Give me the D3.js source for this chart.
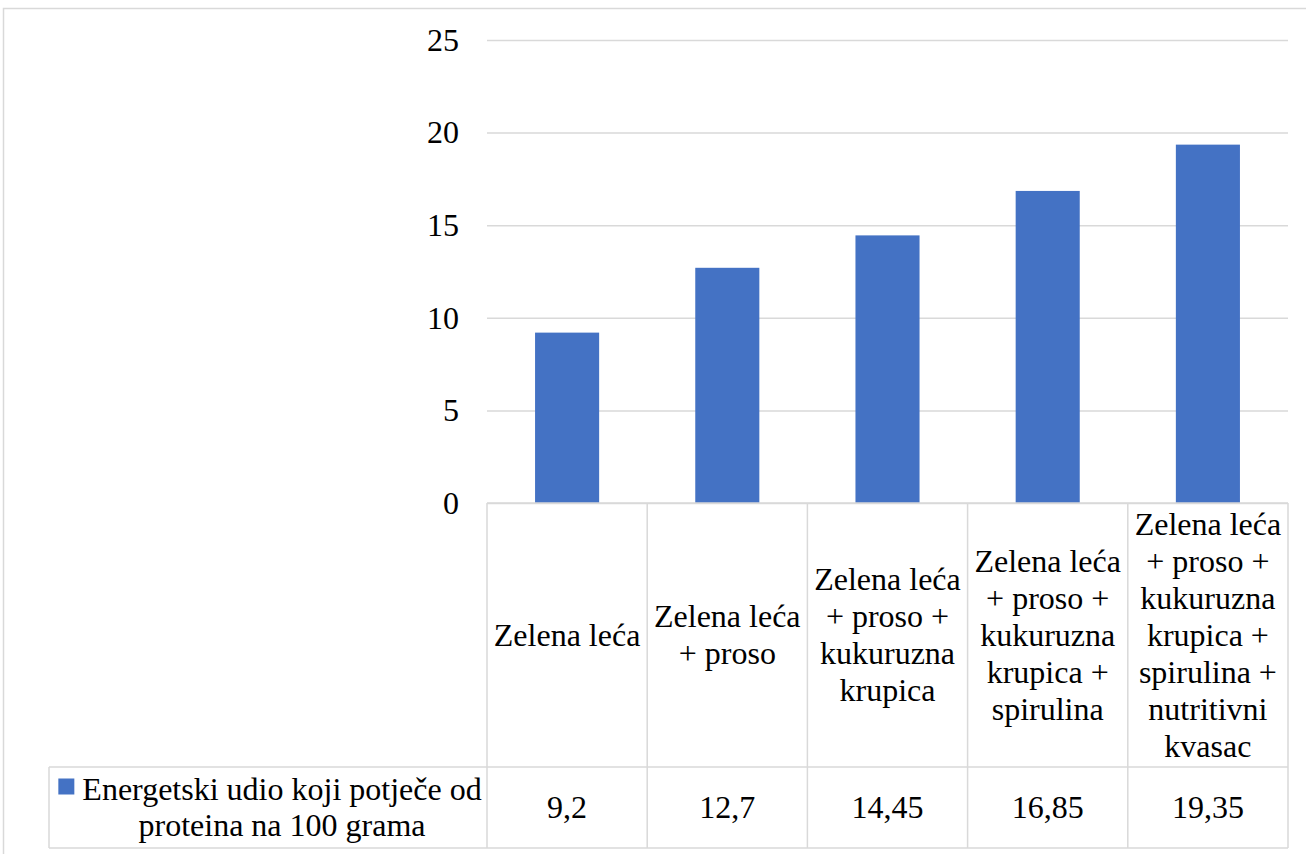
<!DOCTYPE html>
<html>
<head>
<meta charset="utf-8">
<script src="https://cdn.jsdelivr.net/npm/d3@7"></script>
<style>
  html, body { margin: 0; padding: 0; background: #fff; }
  svg { display: block; }
</style>
</head>
<body>
<div id="chart"></div>
<script>
const categories = [
  'Zelena leća',
  'Zelena leća + proso',
  'Zelena leća + proso + kukuruzna krupica',
  'Zelena leća + proso + kukuruzna krupica + spirulina',
  'Zelena leća + proso + kukuruzna krupica + spirulina + nutritivni kvasac'
];
const values = [9.2, 12.7, 14.45, 16.85, 19.35];
const seriesName = 'Energetski udio koji potječe od proteina na 100 grama';
const yTicks = [0, 5, 10, 15, 20, 25];

(function(){
  const W = 1306, H = 854;
  const fontFamily = '"Liberation Serif", "Times New Roman", Tinos, serif';
  const fontSize = 32, lineH = 37;
  const gridColor = '#d9d9d9', barColor = '#4472c4';
  const plot = {left: 487, right: 1288, top: 40, bottom: 503};
  const headerBottom = 767, tableBottom = 848, legendLeft = 49;

  const svg = d3.select('#chart').append('svg')
    .attr('width', W)
    .attr('height', H)
    .style('font-family', fontFamily);

  // outer chart border (cut off at right/bottom)
  svg.append('rect')
    .attr('x', 3.5).attr('y', 8.5)
    .attr('width', W + 10).attr('height', H + 10)
    .attr('fill', 'none')
    .attr('stroke', gridColor)
    .attr('stroke-width', 1.5);

  const x = d3.scaleBand()
    .domain(categories)
    .range([plot.left, plot.right])
    .padding(0);

  const y = d3.scaleLinear()
    .domain([0, 25])
    .range([plot.bottom, plot.top]);

  // gridlines
  svg.append('g')
    .attr('class', 'grid')
    .attr('transform', 'translate(' + plot.left + ',0)')
    .call(d3.axisLeft(y)
      .tickValues(yTicks)
      .tickSize(-(plot.right - plot.left))
      .tickFormat(() => ''))
    .call(g => g.select('.domain').remove())
    .selectAll('line')
      .attr('stroke', gridColor)
      .attr('stroke-width', 1.5);

  // y tick labels
  svg.append('g')
    .attr('class', 'y-labels')
    .selectAll('text')
    .data(yTicks)
    .enter().append('text')
      .attr('x', 459)
      .attr('y', d => y(d))
      .attr('dy', '0.34em')
      .attr('text-anchor', 'end')
      .attr('font-size', fontSize)
      .style('font-family', fontFamily)
      .text(d => d);

  // bars
  const barW = x.bandwidth() * 0.4;
  svg.append('g')
    .attr('class', 'bars')
    .selectAll('rect')
    .data(values)
    .enter().append('rect')
      .attr('x', (d, i) => x(categories[i]) + (x.bandwidth() - barW) / 2)
      .attr('y', d => y(d))
      .attr('width', barW)
      .attr('height', d => y(0) - y(d))
      .attr('fill', barColor);

  // data table lines
  const table = svg.append('g').attr('class', 'table')
    .attr('stroke', gridColor).attr('stroke-width', 1.5);
  table.append('line').attr('x1', plot.left).attr('x2', plot.right).attr('y1', plot.bottom).attr('y2', plot.bottom);
  table.append('line').attr('x1', legendLeft).attr('x2', plot.right).attr('y1', headerBottom).attr('y2', headerBottom);
  table.append('line').attr('x1', legendLeft).attr('x2', plot.right).attr('y1', tableBottom).attr('y2', tableBottom);
  table.append('line').attr('x1', legendLeft).attr('x2', legendLeft).attr('y1', headerBottom).attr('y2', tableBottom);
  table.selectAll('.col')
    .data(categories.map(c => x(c)).concat([plot.right]))
    .enter().append('line')
      .attr('x1', d => d).attr('x2', d => d)
      .attr('y1', plot.bottom).attr('y2', tableBottom);

  // greedy word wrap using measured widths
  function measure(str){
    const probe = svg.append('text').attr('font-size', fontSize).style('font-family', fontFamily).text(str);
    const w = probe.node().getComputedTextLength();
    probe.remove();
    return w;
  }
  function wrap(str, maxW){
    const words = str.split(' '), lines = [];
    let cur = '';
    words.forEach(w => {
      const test = cur ? cur + ' ' + w : w;
      if(cur && measure(test) > maxW){
        lines.push(cur);
        cur = w;
      } else {
        cur = test;
      }
    });
    if(cur) lines.push(cur);
    return lines;
  }

  // category headers
  const headMid = (plot.bottom + headerBottom) / 2;
  svg.append('g')
    .attr('class', 'cat-labels')
    .selectAll('text')
    .data(categories)
    .enter().append('text')
      .attr('text-anchor', 'middle')
      .attr('font-size', fontSize)
      .style('font-family', fontFamily)
      .each(function(d){
        const lines = wrap(d, x.bandwidth() - 4);
        const cx = x(d) + x.bandwidth() / 2;
        d3.select(this).selectAll('tspan')
          .data(lines)
          .enter().append('tspan')
            .attr('x', cx)
            .attr('y', (l, i) => headMid + (i - (lines.length - 1) / 2) * lineH + fontSize * 0.33)
            .text(l => l);
      });

  // values row
  const rowMid = (headerBottom + tableBottom) / 2;
  svg.append('g')
    .attr('class', 'values')
    .selectAll('text')
    .data(values)
    .enter().append('text')
      .attr('x', (d, i) => x(categories[i]) + x.bandwidth() / 2)
      .attr('y', rowMid)
      .attr('dy', '0.34em')
      .attr('text-anchor', 'middle')
      .attr('font-size', fontSize)
      .style('font-family', fontFamily)
      .text(d => String(d).replace('.', ','));

  // legend key cell
  const legLines = wrap(seriesName, 410);
  const textW = d3.max(legLines, measure);
  const keySize = 16, keyGap = 8;
  const blockLeft = (legendLeft + plot.left) / 2 - (keySize + keyGap + textW) / 2 + 2;
  const textLeft = blockLeft + keySize + keyGap;
  const legLineH = 36;
  const legG = svg.append('g').attr('class', 'legend');
  legG.append('rect')
    .attr('x', blockLeft)
    .attr('y', rowMid - legLineH / 2 - keySize / 2 - 3)
    .attr('width', keySize)
    .attr('height', keySize)
    .attr('fill', barColor);
  legG.append('text')
    .attr('font-size', fontSize)
    .style('font-family', fontFamily)
    .selectAll('tspan')
    .data(legLines)
    .enter().append('tspan')
      .attr('x', (l, i) => i === 0 ? textLeft : textLeft + textW / 2)
      .attr('text-anchor', (l, i) => i === 0 ? 'start' : 'middle')
      .attr('y', (l, i) => rowMid + (i - (legLines.length - 1) / 2) * legLineH + fontSize * 0.33)
      .text(l => l);
})();
</script>
</body>
</html>
